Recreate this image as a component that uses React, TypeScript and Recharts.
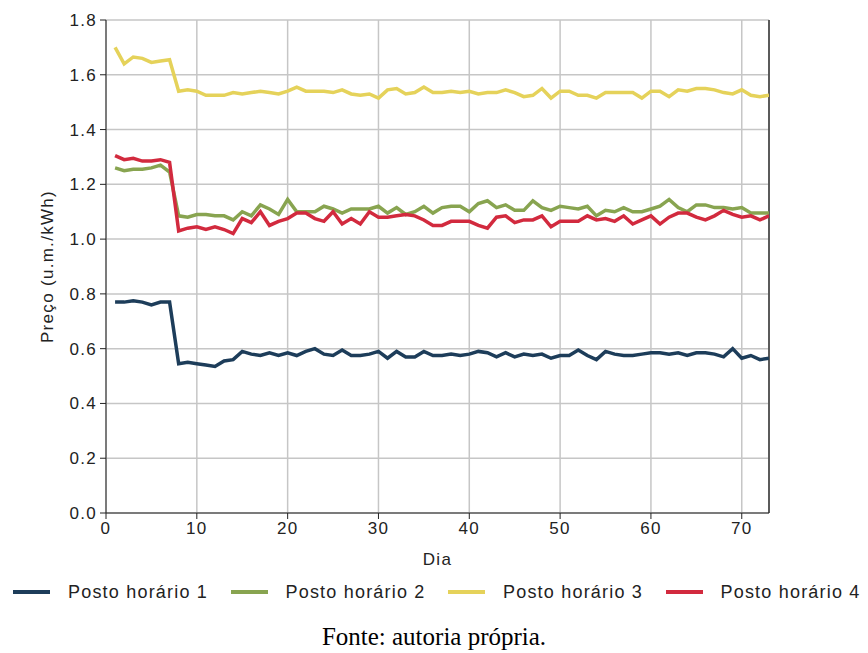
import {
  LineChart,
  Line,
  XAxis,
  YAxis,
  CartesianGrid,
  ReferenceLine,
} from "recharts";

const days = Array.from({ length: 73 }, (_, i) => i + 1);

const posto1 = [
  0.77, 0.77, 0.775, 0.77, 0.76, 0.77, 0.77, 0.545, 0.55, 0.545, 0.54, 0.535, 0.555, 0.56, 0.59,
  0.58, 0.575, 0.585, 0.575, 0.585, 0.575, 0.59, 0.6, 0.58, 0.575, 0.595, 0.575, 0.575, 0.58, 0.59,
  0.565, 0.59, 0.57, 0.57, 0.59, 0.575, 0.575, 0.58, 0.575, 0.58, 0.59, 0.585, 0.57, 0.585, 0.57,
  0.58, 0.575, 0.58, 0.565, 0.575, 0.575, 0.595, 0.575, 0.56, 0.59, 0.58, 0.575, 0.575, 0.58, 0.585,
  0.585, 0.58, 0.585, 0.575, 0.585, 0.585, 0.58, 0.57, 0.6, 0.565, 0.575, 0.56, 0.565,
];
const posto2 = [
  1.26, 1.25, 1.255, 1.255, 1.26, 1.27, 1.245, 1.085, 1.08, 1.09, 1.09, 1.085, 1.085, 1.07, 1.1,
  1.085, 1.125, 1.11, 1.09, 1.145, 1.1, 1.1, 1.1, 1.12, 1.11, 1.095, 1.11, 1.11, 1.11, 1.12,
  1.095, 1.115, 1.09, 1.1, 1.12, 1.095, 1.115, 1.12, 1.12, 1.1, 1.13, 1.14, 1.115, 1.125, 1.105,
  1.105, 1.14, 1.115, 1.105, 1.12, 1.115, 1.11, 1.12, 1.085, 1.105, 1.1, 1.115, 1.1, 1.1, 1.11,
  1.12, 1.145, 1.115, 1.1, 1.125, 1.125, 1.115, 1.115, 1.11, 1.115, 1.095, 1.095, 1.095,
];
const posto3 = [
  1.7, 1.64, 1.665, 1.66, 1.645, 1.65, 1.655, 1.54, 1.545, 1.54, 1.525, 1.525, 1.525, 1.535, 1.53,
  1.535, 1.54, 1.535, 1.53, 1.54, 1.555, 1.54, 1.54, 1.54, 1.535, 1.545, 1.53, 1.525, 1.53, 1.515,
  1.545, 1.55, 1.53, 1.535, 1.555, 1.535, 1.535, 1.54, 1.535, 1.54, 1.53, 1.535, 1.535, 1.545, 1.535,
  1.52, 1.525, 1.55, 1.515, 1.54, 1.54, 1.525, 1.525, 1.515, 1.535, 1.535, 1.535, 1.535, 1.515, 1.54,
  1.54, 1.52, 1.545, 1.54, 1.55, 1.55, 1.545, 1.535, 1.53, 1.545, 1.525, 1.52, 1.525,
];
const posto4 = [
  1.305, 1.29, 1.295, 1.285, 1.285, 1.29, 1.28, 1.03, 1.04, 1.045, 1.035, 1.045, 1.035, 1.02, 1.075,
  1.06, 1.1, 1.05, 1.065, 1.075, 1.095, 1.095, 1.075, 1.065, 1.1, 1.055, 1.075, 1.055, 1.1, 1.08,
  1.08, 1.085, 1.09, 1.085, 1.07, 1.05, 1.05, 1.065, 1.065, 1.065, 1.05, 1.04, 1.08, 1.085, 1.06,
  1.07, 1.07, 1.085, 1.045, 1.065, 1.065, 1.065, 1.085, 1.07, 1.075, 1.065, 1.085, 1.055, 1.07, 1.085,
  1.055, 1.08, 1.095, 1.095, 1.08, 1.07, 1.085, 1.105, 1.09, 1.08, 1.085, 1.07, 1.085,
];

const xTicks = [0, 10, 20, 30, 40, 50, 60, 70];
const yTicks = [0, 0.2, 0.4, 0.6, 0.8, 1.0, 1.2, 1.4, 1.6, 1.8];

const seriesInfo = [
  { key: "p1", name: "Posto horário 1", color: "#1d3d5a" },
  { key: "p2", name: "Posto horário 2", color: "#88a450" },
  { key: "p3", name: "Posto horário 3", color: "#e5d25a" },
  { key: "p4", name: "Posto horário 4", color: "#d22a3e" },
];

const data = days.map((d, i) => ({
  dia: d,
  p1: posto1[i],
  p2: posto2[i],
  p3: posto3[i],
  p4: posto4[i],
}));

const font = "'Liberation Sans', Arial, sans-serif";
const tickStyle = { fontSize: 17, fill: "#222", fontFamily: font, letterSpacing: 1.3 };

function LegendRow() {
  return (
    <div
      style={{
        position: "absolute",
        top: 581,
        left: 0,
        display: "flex",
        fontFamily: font,
        fontSize: 18,
        color: "#222",
        letterSpacing: 1.2,
        lineHeight: "22px",
      }}
    >
      {seriesInfo.map((s) => (
        <div key={s.key} style={{ display: "flex", alignItems: "center", width: 217.5 }}>
          <span style={{ display: "inline-block", width: 37, height: 4, background: s.color, marginLeft: 13, marginRight: 18 }} />
          <span style={{ whiteSpace: "nowrap" }}>{s.name}</span>
        </div>
      ))}
    </div>
  );
}

export default function App() {
  return (
    <div style={{ position: "absolute", left: 0, top: 0, width: 868, height: 653, background: "#fff", overflow: "hidden" }}>
      <LineChart width={868} height={580} data={data} margin={{ top: 20, right: 99, bottom: 5, left: 0 }}>
        <CartesianGrid stroke="#c6c6c6" strokeWidth={1.5} />
        <XAxis
          dataKey="dia"
          type="number"
          domain={[0, 73]}
          ticks={xTicks}
          allowDataOverflow
          tick={tickStyle}
          tickSize={6}
          tickMargin={3}
          stroke="#222"
          height={62}
          label={{ value: "Dia", position: "insideBottom", offset: 10, style: { ...tickStyle } }}
        />
        <YAxis
          domain={[0, 1.8]}
          ticks={yTicks}
          tickFormatter={(v: number) => v.toFixed(1)}
          tick={tickStyle}
          tickSize={6}
          tickMargin={3}
          stroke="#222"
          width={106}
          label={{
            value: "Preço (u.m./kWh)",
            angle: -90,
            position: "insideLeft",
            offset: 47,
            style: { ...tickStyle, letterSpacing: 1.3, textAnchor: "middle" },
          }}
        />
        <ReferenceLine x={73} stroke="#333" strokeWidth={1.5} />
        {seriesInfo.map((s) => (
          <Line
            key={s.key}
            dataKey={s.key}
            name={s.name}
            stroke={s.color}
            strokeWidth={3.5}
            dot={false}
            isAnimationActive={false}
          />
        ))}
      </LineChart>
      <LegendRow />
      <div
        style={{
          position: "absolute",
          top: 622,
          width: 868,
          textAlign: "center",
          fontFamily: "'Liberation Serif', 'Times New Roman', serif",
          fontSize: 25,
          lineHeight: "30px",
          color: "#000",
        }}
      >
        Fonte: autoria própria.
      </div>
    </div>
  );
}
